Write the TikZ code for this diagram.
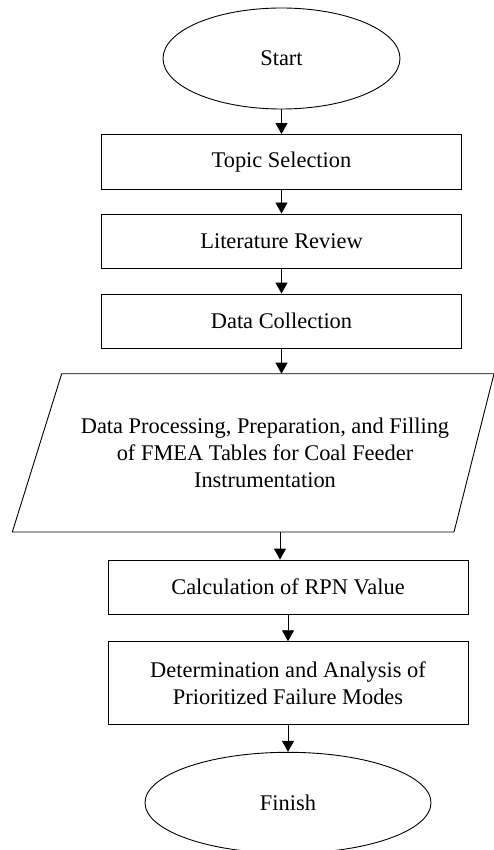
\documentclass[tikz,border=0pt]{standalone}
\usepackage{fontspec}
\setmainfont{Liberation Serif}
\usetikzlibrary{arrows.meta,shapes.geometric}
\begin{document}
\begin{tikzpicture}[x=1pt,y=-1pt,
  every node/.style={font=\fontsize{22.4}{26.7}\selectfont, align=center, inner sep=0pt},
  term/.style={draw, ellipse, line width=0.9pt, minimum width=237pt, minimum height=101pt},
  stepbox/.style={draw, rectangle, line width=0.9pt, minimum width=360pt},
  arr/.style={line width=0.9pt, -{Triangle[length=11pt,width=12pt]}}]
\useasboundingbox (0,0) rectangle (493,850);
\node[term] (start) at (281.5,58.5) {Start};
\node[stepbox, minimum height=54.5pt] (topic) at (281.5,161.75) {Topic Selection};
\node[stepbox, minimum height=54.5pt] (lit) at (281.5,241.25) {Literature Review};
\node[stepbox, minimum height=54pt] (data) at (281.5,321) {Data Collection};
\coordinate (ptl) at (61.7,373.7);
\coordinate (ptr) at (494,373.7);
\coordinate (pbr) at (454,532);
\coordinate (pbl) at (12.3,532);
\draw[line width=0.9pt] (ptl) -- (ptr) -- (pbr) -- (pbl) -- cycle;
\node (proc) at (265,453) {Data Processing, Preparation, and Filling\\of FMEA Tables for Coal Feeder\\Instrumentation};
\coordinate (pin) at (281.5,373.7);
\coordinate (pout) at (280,532);
\node[stepbox, minimum height=54.3pt] (calc) at (288,587.2) {Calculation of RPN Value};
\node[stepbox, minimum height=83pt] (det) at (288,683.2) {Determination and Analysis of\\Prioritized Failure Modes};
\node[term, minimum width=286pt] (finish) at (288,802.8) {Finish};
\draw[arr] (start) -- (topic);
\draw[arr] (topic) -- (lit);
\draw[arr] (lit) -- (data);
\draw[arr] (data) -- (pin);
\draw[arr] (pout) -- (pout |- calc.north);
\draw[arr] (calc) -- (det);
\draw[arr] (det) -- (finish);
\end{tikzpicture}
\end{document}
